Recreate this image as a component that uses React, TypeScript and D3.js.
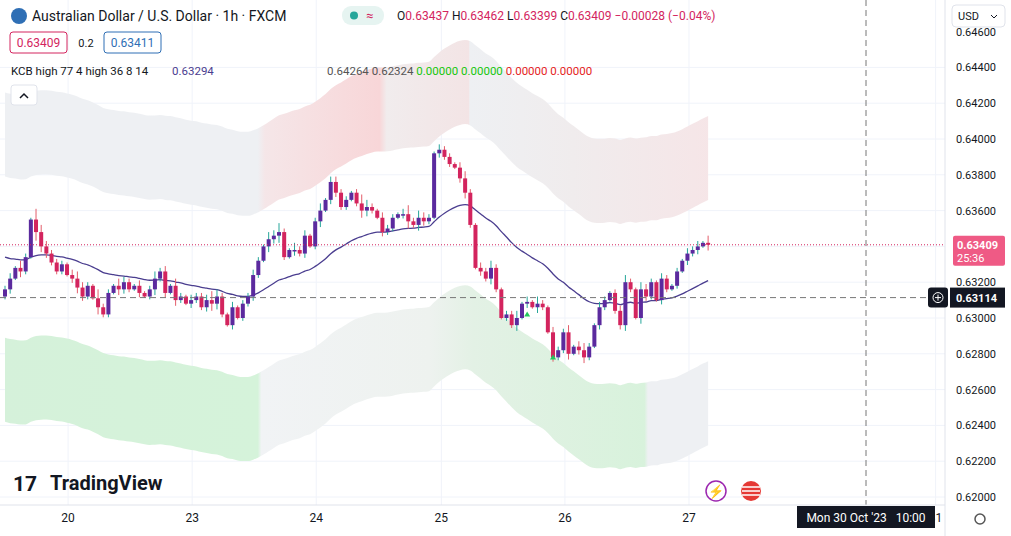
import { useEffect, useRef } from "react";
import * as d3 from "d3";

// 1h closes, stored as (price * 10000 - 3000)
const closes = [
  3316, 3322, 3328, 3326, 3334, 3355, 3348, 3340, 3336, 3331, 3326, 3330,
  3324, 3322, 3317, 3312, 3318, 3311, 3306, 3302, 3314, 3318, 3316, 3320,
  3316, 3318, 3314, 3312, 3316, 3322, 3326, 3314, 3318, 3310, 3312, 3308,
  3310, 3312, 3306, 3310, 3308, 3312, 3302, 3296, 3306, 3300, 3308, 3312,
  3324, 3332, 3340, 3344, 3346, 3348, 3334, 3338, 3338, 3336, 3346, 3340,
  3354, 3360, 3366, 3376, 3370, 3362, 3366, 3370, 3364, 3360, 3362, 3360,
  3356, 3348, 3350, 3356, 3358, 3358, 3354, 3352, 3356, 3354, 3356, 3392,
  3394, 3390, 3386, 3384, 3378, 3370, 3352, 3328, 3326, 3322, 3328, 3316,
  3300, 3302, 3296, 3300, 3308, 3309, 3306, 3308, 3306, 3292, 3278, 3282,
  3292, 3280, 3284, 3282, 3278, 3284, 3296, 3306, 3310, 3314, 3304, 3296,
  3320, 3316, 3300, 3316, 3312, 3320, 3310, 3322, 3316, 3318, 3326, 3332,
  3336, 3338, 3340, 3342, 3340.9,
];
// wick lengths in pips
const wicks = "2314216432221343215221432131242314213223542131223214352142312413322125421322135243213221342132421224131421322413421321234214321321213";
const maStart = 0.6334;
const dayLabels = ["20", "23", "24", "25", "26", "27", "31"];
const dayIndex = [12.2, 36.2, 60.2, 84.4, 108.3, 132.3, 180];
const priceTicks = [0.62, 0.622, 0.624, 0.626, 0.628, 0.63, 0.632, 0.634, 0.636, 0.638, 0.64, 0.642, 0.644];

const UP = "#5b2a9e";
const DN = "#d3245e";

export default function App() {
  const ref = useRef<SVGSVGElement | null>(null);

  useEffect(() => {
    const W = 1011, H = 536;
    const svg = d3.select(ref.current).attr("width", W).attr("height", H).style("font-family", "Roboto, sans-serif");
    svg.selectAll("*").remove();

    const data = closes.map((c, i) => {
      const close = (c + 3000) / 10000;
      const open = i === 0 ? close - 0.0004 : (closes[i - 1] + 3000) / 10000;
      const w = (+wicks[i % wicks.length] || 1) / 10000;
      return { i, open, close, high: Math.max(open, close) + w, low: Math.min(open, close) - w * 0.8 };
    });
    // EMA basis
    const k = 2 / 31;
    const ma: number[] = [];
    data.forEach((d, i) => ma.push(i === 0 ? maStart : ma[i - 1] + k * (d.close - ma[i - 1])));

    const x = d3.scaleLinear().domain([0, 1]).range([5, 10.17]);
    const y = d3.scaleLinear().domain([0.62, 0.64]).range([497, 139]);

    svg.append("rect").attr("width", W).attr("height", H).attr("fill", "#fff");

    // grid
    const g = svg.append("g");
    priceTicks.forEach((p) => g.append("line").attr("x1", 0).attr("x2", 945).attr("y1", y(p)).attr("y2", y(p)).attr("stroke", "#f0f3fa"));
    dayIndex.forEach((d) => g.append("line").attr("x1", x(d)).attr("x2", x(d)).attr("y1", 0).attr("y2", 505).attr("stroke", "#f0f3fa"));

    // Keltner bands
    const defs = svg.append("defs");
    const grad = (id: string, stops: [number, string][]) => {
      const lg = defs.append("linearGradient").attr("id", id).attr("gradientUnits", "userSpaceOnUse").attr("x1", 0).attr("x2", 716);
      stops.forEach(([o, c]) => lg.append("stop").attr("offset", o).attr("stop-color", c));
    };
    grad("up", [[0, "#eef0f3"], [0.36, "#eef0f3"], [0.37, "#f5e6e8"], [0.53, "#f8d6d8"], [0.54, "#f1eced"], [0.655, "#f3e4e5"], [0.656, "#eef0f3"], [0.8, "#f0eced"], [1, "#f6e5e7"]]);
    grad("dn", [[0, "#d5f1da"], [0.36, "#d5f3da"], [0.365, "#f1f3f5"], [0.6, "#eef2ef"], [0.66, "#e3f1e5"], [0.9, "#d8f2dc"], [0.905, "#eef0f3"], [1, "#eef0f3"]]);
    const band = (a: number, b: number) =>
      d3.area<number>().x((_, i) => x(i)).y0((m) => y(m + a)).y1((m) => y(m + b)).curve(d3.curveMonotoneX);
    svg.append("path").datum(ma).attr("d", band(0.0045, 0.0092)).attr("fill", "url(#up)");
    svg.append("path").datum(ma).attr("d", band(-0.0045, -0.0092)).attr("fill", "url(#dn)");

    // MA
    svg.append("path").datum(ma).attr("fill", "none").attr("stroke", "#4a3d8f").attr("stroke-width", 1.3)
      .attr("d", d3.line<number>().x((_, i) => x(i)).y((m) => y(m)).curve(d3.curveMonotoneX));

    // candles
    const c = svg.append("g");
    data.forEach((d) => {
      const col = d.close >= d.open ? UP : DN;
      const wk = d.close >= d.open ? "#26a69a" : "#e35d6a";
      c.append("line").attr("x1", x(d.i)).attr("x2", x(d.i)).attr("y1", y(d.high)).attr("y2", y(d.low)).attr("stroke", wk);
      const t = y(Math.max(d.open, d.close)), b = y(Math.min(d.open, d.close));
      c.append("rect").attr("x", x(d.i) - 2).attr("width", 4).attr("y", t).attr("height", Math.max(1.5, b - t)).attr("fill", col);
    });
    [[101, 0.6302], [106, 0.6278]].forEach(([i, p]) =>
      svg.append("path").attr("d", `M${x(i)},${y(p) - 3}l3,5h-6z`).attr("fill", "#22c55e"));

    // crosshair / price lines
    const last = data[data.length - 1].close;
    svg.append("line").attr("x1", 0).attr("x2", 945).attr("y1", y(last)).attr("y2", y(last)).attr("stroke", "#d3245e").attr("stroke-dasharray", "1,2");
    svg.append("line").attr("x1", 0).attr("x2", 945).attr("y1", y(0.63114)).attr("y2", y(0.63114)).attr("stroke", "#777").attr("stroke-dasharray", "6,4");
    svg.append("line").attr("x1", 866).attr("x2", 866).attr("y1", 0).attr("y2", 505).attr("stroke", "#777").attr("stroke-dasharray", "6,4");

    // right axis
    svg.append("line").attr("x1", 945).attr("x2", 945).attr("y1", 0).attr("y2", 536).attr("stroke", "#e0e3eb");
    priceTicks.filter((p) => Math.abs(y(p) - y(last)) > 14).forEach((p) =>
      svg.append("text").attr("x", 956).attr("y", y(p) + 4).attr("font-size", 11).attr("fill", "#131722").text(p.toFixed(5)));
    svg.append("text").attr("x", 956).attr("y", 36).attr("font-size", 11).attr("fill", "#131722").text("0.64600");
    svg.append("rect").attr("x", 953).attr("y", y(last) - 9).attr("width", 52).attr("height", 30).attr("rx", 2).attr("fill", "#ef5a85");
    svg.append("text").attr("x", 957).attr("y", y(last) + 4).attr("font-size", 11).attr("font-weight", 700).attr("fill", "#fff").text(last.toFixed(5));
    svg.append("text").attr("x", 957).attr("y", y(last) + 17).attr("font-size", 11).attr("fill", "#fff").text("25:36");
    svg.append("rect").attr("x", 928).attr("y", y(0.63114) - 10).attr("width", 20).attr("height", 20).attr("rx", 3).attr("fill", "#131722");
    svg.append("circle").attr("cx", 938).attr("cy", y(0.63114)).attr("r", 5).attr("fill", "none").attr("stroke", "#fff");
    svg.append("path").attr("d", `M935,${y(0.63114)}h6M938,${y(0.63114) - 3}v6`).attr("stroke", "#fff");
    svg.append("rect").attr("x", 950).attr("y", y(0.63114) - 10).attr("width", 55).attr("height", 20).attr("fill", "#131722");
    svg.append("text").attr("x", 956).attr("y", y(0.63114) + 4).attr("font-size", 11).attr("font-weight", 700).attr("fill", "#fff").text("0.63114");
    svg.append("rect").attr("x", 952).attr("y", 5).attr("width", 53).attr("height", 22).attr("rx", 4).attr("fill", "#fff").attr("stroke", "#e0e3eb");
    svg.append("text").attr("x", 958).attr("y", 20).attr("font-size", 11).attr("fill", "#131722").text("USD");
    svg.append("path").attr("d", "M991,15l3,3l3,-3").attr("fill", "none").attr("stroke", "#131722");

    // bottom axis
    svg.append("line").attr("x1", 0).attr("x2", 945).attr("y1", 505).attr("y2", 505).attr("stroke", "#e0e3eb");
    dayLabels.forEach((l, k) => svg.append("text").attr("x", x(dayIndex[k])).attr("y", 522).attr("text-anchor", "middle").attr("font-size", 12).attr("fill", "#131722").text(l));
    svg.append("rect").attr("x", 797).attr("y", 506).attr("width", 138).attr("height", 22).attr("fill", "#131722");
    svg.append("text").attr("x", 866).attr("y", 522).attr("text-anchor", "middle").attr("font-size", 12).attr("fill", "#fff").attr("xml:space", "preserve").text("Mon 30 Oct '23   10:00");
    svg.append("circle").attr("cx", 980).attr("cy", 519).attr("r", 5).attr("fill", "none").attr("stroke", "#555").attr("stroke-width", 1.5);

    // header
    svg.append("circle").attr("cx", 19).attr("cy", 16).attr("r", 8).attr("fill", "#2f6fb5");
    svg.append("text").attr("x", 32).attr("y", 21).attr("font-size", 14).attr("fill", "#131722").text("Australian Dollar / U.S. Dollar · 1h · FXCM");
    svg.append("rect").attr("x", 342).attr("y", 6).attr("width", 42).attr("height", 19).attr("rx", 9).attr("fill", "#e6f4f1");
    svg.append("circle").attr("cx", 354).attr("cy", 15.5).attr("r", 4).attr("fill", "#26a69a");
    svg.append("text").attr("x", 366).attr("y", 20).attr("font-size", 13).attr("fill", "#d3245e").text("≈");
    const hdr = svg.append("text").attr("x", 397).attr("y", 20).attr("font-size", 12).attr("fill", "#d3245e");
    ["O", "0.63437 ", "H", "0.63462 ", "L", "0.63399 ", "C", "0.63409 ", "", "−0.00028 (−0.04%)"].forEach((t, k) =>
      hdr.append("tspan").attr("fill", k % 2 === 0 ? "#131722" : "#d3245e").attr("xml:space", "preserve").text(t));
    svg.append("rect").attr("x", 10).attr("y", 32).attr("width", 57).attr("height", 21).attr("rx", 3).attr("fill", "#fff").attr("stroke", "#d3245e");
    svg.append("text").attr("x", 38.5).attr("y", 47).attr("text-anchor", "middle").attr("font-size", 12).attr("fill", "#d3245e").text("0.63409");
    svg.append("text").attr("x", 86).attr("y", 47).attr("text-anchor", "middle").attr("font-size", 11).attr("fill", "#131722").text("0.2");
    svg.append("rect").attr("x", 104).attr("y", 32).attr("width", 57).attr("height", 21).attr("rx", 3).attr("fill", "#fff").attr("stroke", "#2f6fb5");
    svg.append("text").attr("x", 132.5).attr("y", 47).attr("text-anchor", "middle").attr("font-size", 12).attr("fill", "#2f6fb5").text("0.63411");
    svg.append("text").attr("x", 11).attr("y", 75).attr("font-size", 11.5).attr("fill", "#131722").text("KCB high 77 4 high 36 8 14");
    svg.append("text").attr("x", 172).attr("y", 75).attr("font-size", 11.5).attr("fill", "#4a3d8f").text("0.63294");
    const kc = svg.append("text").attr("x", 327).attr("y", 75).attr("font-size", 11.5);
    [["0.64264 ", "#555"], ["0.62324 ", "#555"], ["0.00000 ", "#16c60c"], ["0.00000 ", "#16c60c"], ["0.00000 ", "#e51c1c"], ["0.00000", "#e51c1c"]].forEach(([t, col]) =>
      kc.append("tspan").attr("fill", col).attr("xml:space", "preserve").text(t));
    svg.append("rect").attr("x", 11).attr("y", 85).attr("width", 26).attr("height", 20).attr("rx", 3).attr("fill", "#fff").attr("stroke", "#e0e3eb");
    svg.append("path").attr("d", "M20,98l4,-4l4,4").attr("fill", "none").attr("stroke", "#131722").attr("stroke-width", 1.5);

    // logo
    svg.append("text").attr("x", 13).attr("y", 491).attr("font-size", 21).attr("font-weight", 700).attr("fill", "#131722").text("17");
    svg.append("text").attr("x", 50).attr("y", 490).attr("font-size", 20).attr("font-weight", 700).attr("fill", "#131722").text("TradingView");
    svg.append("circle").attr("cx", 716).attr("cy", 491).attr("r", 10).attr("fill", "#fff").attr("stroke", "#9c27b0").attr("stroke-width", 1.5);
    svg.append("text").attr("x", 716).attr("y", 496).attr("text-anchor", "middle").attr("font-size", 13).attr("fill", "#9c27b0").text("⚡");
    svg.append("circle").attr("cx", 751).attr("cy", 491).attr("r", 10).attr("fill", "#e53935");
    svg.append("path").attr("d", "M742,487h18M742,491h18M742,495h18").attr("stroke", "#fff").attr("stroke-width", 1.5);
  }, []);

  return <svg ref={ref} style={{ position: "absolute", left: 0, top: 0 }}></svg>;
}
